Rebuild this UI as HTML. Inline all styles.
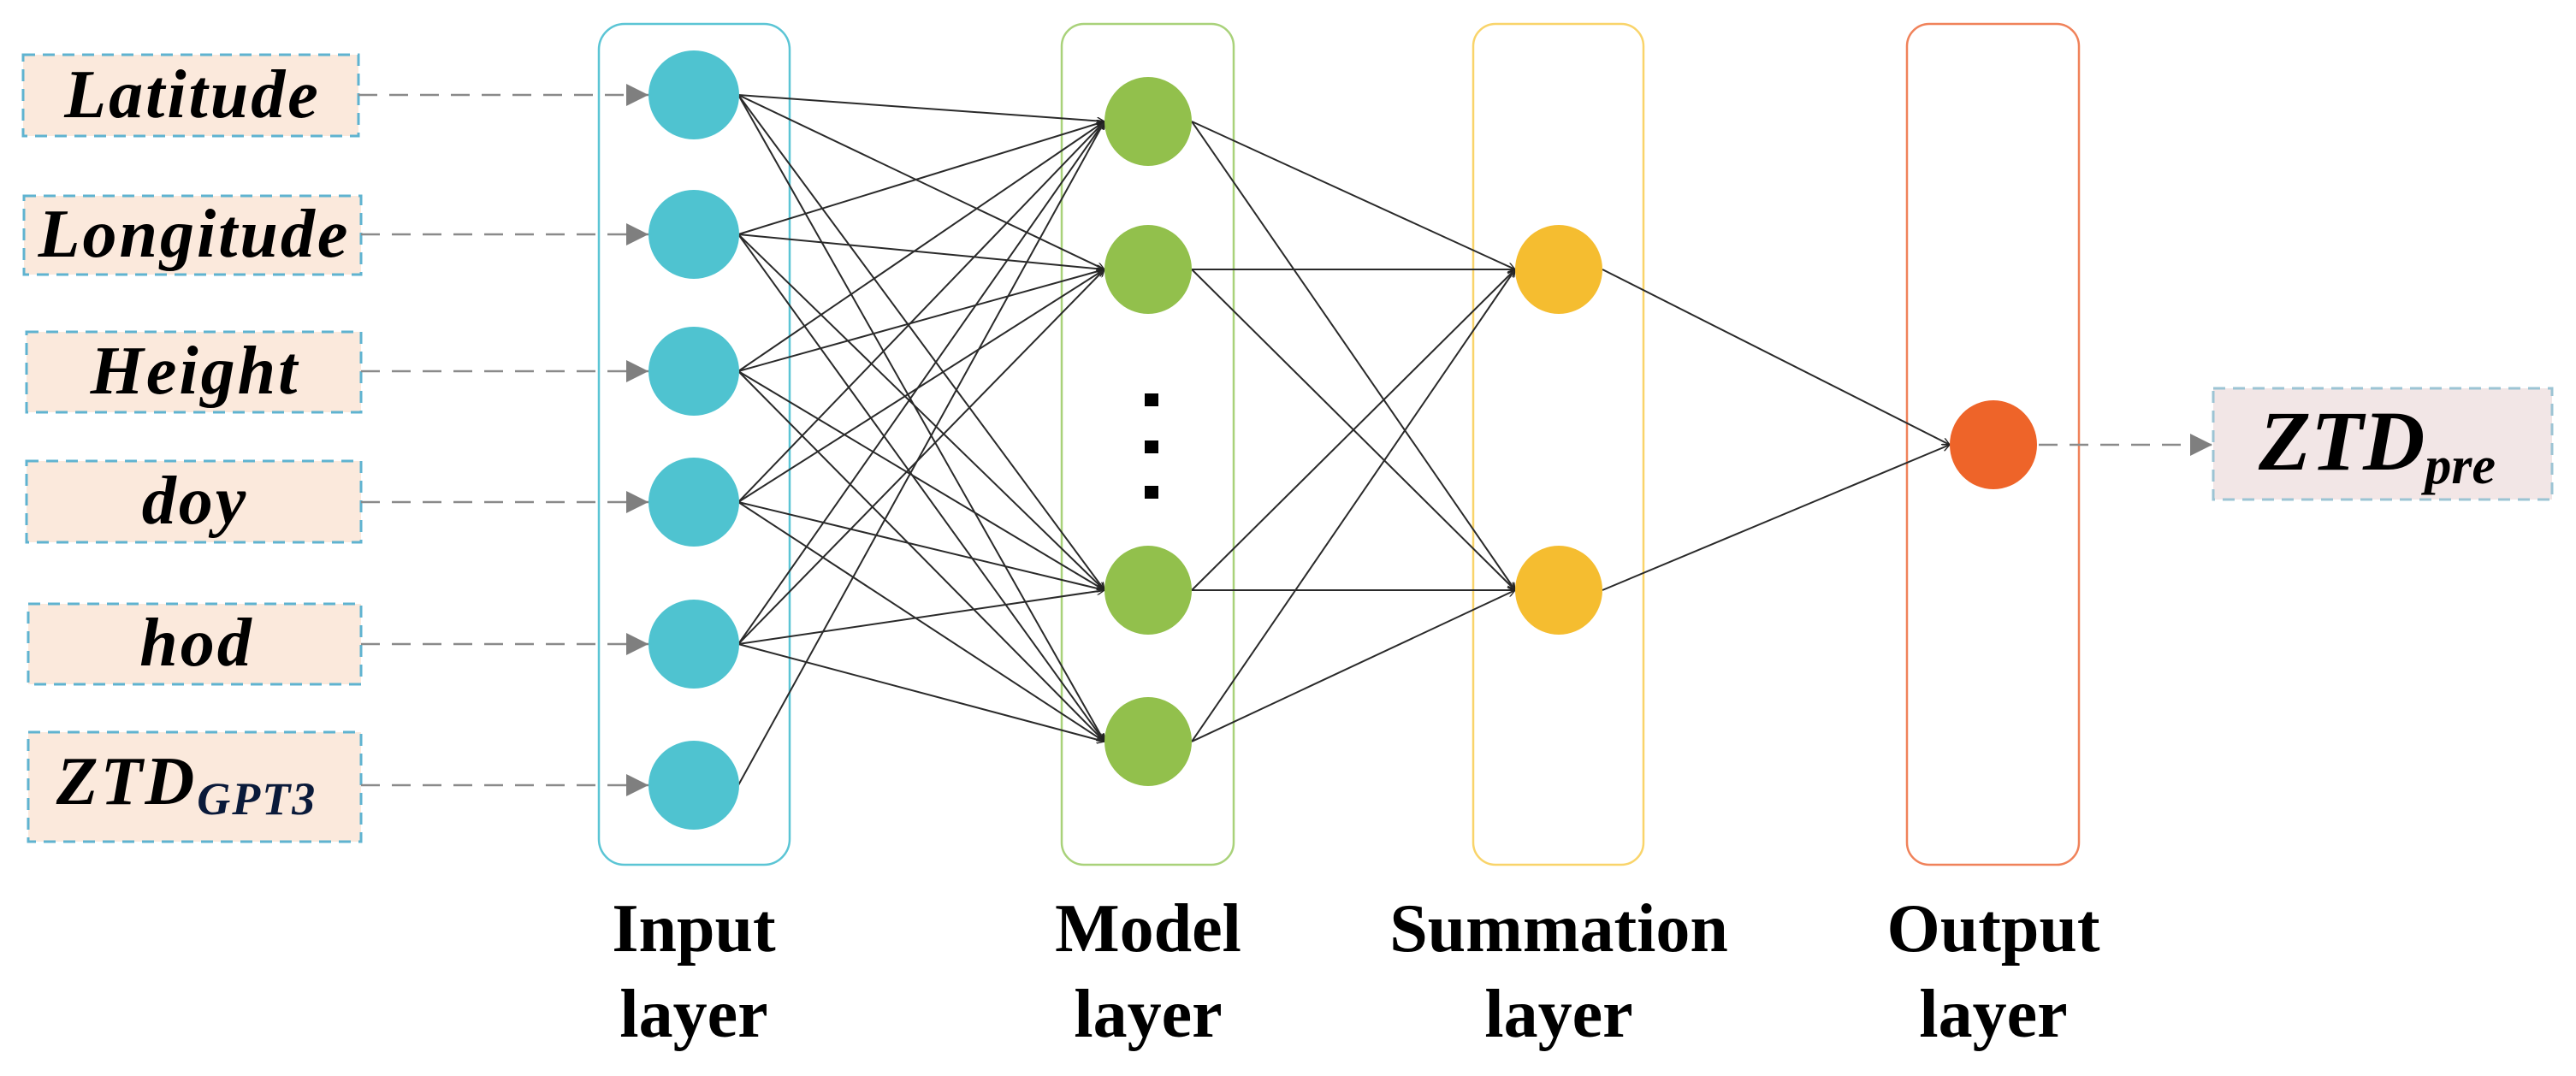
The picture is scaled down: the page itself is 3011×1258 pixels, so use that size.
<!DOCTYPE html>
<html><head><meta charset="utf-8"><style>html,body{margin:0;padding:0;background:#fff}svg{display:block}</style></head>
<body>
<svg width="3011" height="1258" viewBox="0 0 3011 1258" xmlns="http://www.w3.org/2000/svg">
<defs>
<marker id="ah" viewBox="0 0 10 10" refX="10" refY="5" markerWidth="9" markerHeight="9" markerUnits="userSpaceOnUse" orient="auto"><path d="M0,0 L10,5 L0,10" fill="none" stroke="#222" stroke-width="1.5"/></marker>
<marker id="gh" viewBox="0 0 10 10" refX="10" refY="5" markerWidth="36" markerHeight="26" markerUnits="userSpaceOnUse" orient="auto"><path d="M0,0 L10,5 L0,10 z" fill="#7f7f7f"/></marker>
</defs>
<rect x="700" y="28" width="223" height="983" rx="30" fill="none" stroke="#5bc5d5" stroke-width="2.5"/>
<rect x="1241" y="28" width="201" height="983" rx="26" fill="none" stroke="#a9d27a" stroke-width="2.5"/>
<rect x="1722" y="28" width="199" height="983" rx="26" fill="none" stroke="#f9d46a" stroke-width="2.5"/>
<rect x="2229" y="28" width="201" height="983" rx="26" fill="none" stroke="#f0825a" stroke-width="2.5"/>

<g fill="#fbe9dc" stroke="#5fb3d0" stroke-width="3" stroke-dasharray="14,9">
<rect x="27" y="64" width="392" height="95"/>
<rect x="28" y="229" width="394" height="92"/>
<rect x="31" y="388" width="391" height="94"/>
<rect x="31" y="539" width="391" height="95"/>
<rect x="33" y="706" width="389" height="94"/>
<rect x="33" y="856" width="389" height="128"/>
</g>
<g font-family="Liberation Serif, serif" font-weight="bold" font-style="italic" font-size="80" text-anchor="middle" fill="#000" letter-spacing="3">
<text x="225" y="137">Latitude</text>
<text x="227" y="300">Longitude</text>
<text x="228" y="460">Height</text>
<text x="228" y="612">doy</text>
<text x="230" y="778">hod</text>
<text x="218" y="940">ZTD<tspan font-size="54" dy="12" fill="#0a1a3a" letter-spacing="2">GPT3</tspan></text>
</g>

<g stroke="#8a8a8a" stroke-width="2.5" stroke-dasharray="22,14" marker-end="url(#gh)">
<line x1="419" y1="111" x2="758" y2="111"/>
<line x1="422" y1="274" x2="758" y2="274"/>
<line x1="422" y1="434" x2="758" y2="434"/>
<line x1="422" y1="587" x2="758" y2="587"/>
<line x1="422" y1="753" x2="758" y2="753"/>
<line x1="422" y1="918" x2="758" y2="918"/>
<line x1="2383" y1="520" x2="2586" y2="520"/>
</g>

<g stroke="#2a2a2a" stroke-width="2" marker-end="url(#ah)">
<line x1="863" y1="111" x2="1291" y2="142"/><line x1="863" y1="111" x2="1291" y2="315"/><line x1="863" y1="111" x2="1291" y2="690"/><line x1="863" y1="111" x2="1291" y2="867"/>
<line x1="863" y1="274" x2="1291" y2="142"/><line x1="863" y1="274" x2="1291" y2="315"/><line x1="863" y1="274" x2="1291" y2="690"/><line x1="863" y1="274" x2="1291" y2="867"/>
<line x1="863" y1="434" x2="1291" y2="142"/><line x1="863" y1="434" x2="1291" y2="315"/><line x1="863" y1="434" x2="1291" y2="690"/><line x1="863" y1="434" x2="1291" y2="867"/>
<line x1="863" y1="587" x2="1291" y2="142"/><line x1="863" y1="587" x2="1291" y2="315"/><line x1="863" y1="587" x2="1291" y2="690"/><line x1="863" y1="587" x2="1291" y2="867"/>
<line x1="863" y1="753" x2="1291" y2="142"/><line x1="863" y1="753" x2="1291" y2="315"/><line x1="863" y1="753" x2="1291" y2="690"/><line x1="863" y1="753" x2="1291" y2="867"/>
<line x1="863" y1="918" x2="1291" y2="142"/>
<line x1="1393" y1="142" x2="1771" y2="315"/><line x1="1393" y1="142" x2="1771" y2="690"/>
<line x1="1393" y1="315" x2="1771" y2="315"/><line x1="1393" y1="315" x2="1771" y2="690"/>
<line x1="1393" y1="690" x2="1771" y2="315"/><line x1="1393" y1="690" x2="1771" y2="690"/>
<line x1="1393" y1="867" x2="1771" y2="315"/><line x1="1393" y1="867" x2="1771" y2="690"/>
<line x1="1873" y1="315" x2="2279" y2="520"/><line x1="1873" y1="690" x2="2279" y2="520"/>
</g>

<g fill="#4fc3d0">
<ellipse cx="811" cy="111" rx="53" ry="52"/><ellipse cx="811" cy="274" rx="53" ry="52"/><ellipse cx="811" cy="434" rx="53" ry="52"/>
<ellipse cx="811" cy="587" rx="53" ry="52"/><ellipse cx="811" cy="753" rx="53" ry="52"/><ellipse cx="811" cy="918" rx="53" ry="52"/>
</g>
<g fill="#92c04c">
<ellipse cx="1342" cy="142" rx="51" ry="52"/><ellipse cx="1342" cy="315" rx="51" ry="52"/><ellipse cx="1342" cy="690" rx="51" ry="52"/><ellipse cx="1342" cy="867" rx="51" ry="52"/>
</g>
<g fill="#000">
<rect x="1338" y="460" width="16" height="15"/><rect x="1338" y="515" width="16" height="15"/><rect x="1338" y="568" width="16" height="15"/>
</g>
<g fill="#f5bd30"><ellipse cx="1822" cy="315" rx="51" ry="52"/><ellipse cx="1822" cy="690" rx="51" ry="52"/></g>
<ellipse cx="2330" cy="520" rx="51" ry="52" fill="#ee6429"/>

<rect x="2587" y="454" width="396" height="130" fill="#f2e6e6" stroke="#9cc4d4" stroke-width="3" stroke-dasharray="14,9"/>
<text x="2640" y="549" font-family="Liberation Serif, serif" font-weight="bold" font-style="italic" font-size="100" fill="#000">ZTD<tspan font-size="62" dy="16">pre</tspan></text>

<g font-family="Liberation Serif, serif" font-weight="bold" font-size="80" text-anchor="middle" fill="#000">
<text x="811" y="1112">Input</text><text x="811" y="1212">layer</text>
<text x="1342" y="1112">Model</text><text x="1342" y="1212">layer</text>
<text x="1822" y="1112">Summation</text><text x="1822" y="1212">layer</text>
<text x="2330" y="1112">Output</text><text x="2330" y="1212">layer</text>
</g>
</svg>
</body></html>
